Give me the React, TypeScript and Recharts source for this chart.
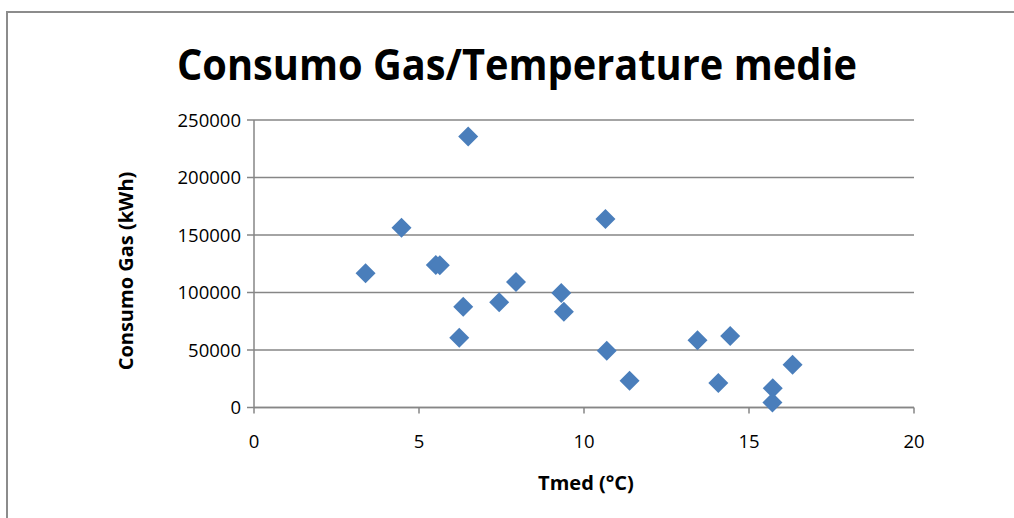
import { ScatterChart, Scatter, XAxis, YAxis, CartesianGrid } from 'recharts';

const temps = [3.38, 4.47, 5.51, 5.63, 6.49, 6.34, 6.22, 7.43, 7.94, 9.31, 9.39, 10.65, 10.69, 11.38, 13.44, 14.43, 14.07, 16.32, 15.72, 15.71];
const gas = [116700, 156200, 124000, 123700, 235700, 87600, 60600, 91500, 109100, 99600, 83300, 164000, 49300, 23200, 58400, 62100, 21400, 37100, 16800, 4400];
const xTicks = [0, 5, 10, 15, 20];
const yTicks = [0, 50000, 100000, 150000, 200000, 250000];

const chartTitle = 'Consumo Gas/Temperature medie';
const xTitle = 'Tmed (°C)';
const yTitle = 'Consumo Gas (kWh)';

const points = temps.map((t, i) => ({ t, gas: gas[i] }));

const FONT = '"Open Sans", "Noto Sans", sans-serif';
const GRID = '#868686';

function Diamond(props: any) {
  const { cx, cy } = props;
  const r = 10;
  return <polygon points={`${cx},${cy - r} ${cx + r},${cy} ${cx},${cy + r} ${cx - r},${cy}`} fill="#4A7EBB" />;
}

export default function App() {
  return (
    <div style={{ position: 'absolute', left: 0, top: 0, width: 1014, height: 518, overflow: 'hidden', background: '#fff', fontFamily: FONT }}>
      <div style={{ position: 'absolute', left: 6, top: 11, width: 1100, height: 600, borderTop: '2px solid #8c8c8c', borderLeft: '2px solid #8c8c8c' }} />
      <ScatterChart width={1014} height={518} margin={{ top: 120, right: 100, bottom: 50.5, left: 174 }} style={{ position: 'absolute', left: 0, top: 0 }}>
        <CartesianGrid vertical={false} stroke={GRID} strokeWidth={1.5} />
        <XAxis
          type="number"
          dataKey="t"
          domain={[0, 20]}
          ticks={xTicks}
          height={60}
          tickSize={6}
          tickMargin={21}
          stroke={GRID}
          strokeWidth={1.5}
          tick={{ fill: '#000', fontSize: 18.5, fontFamily: FONT }}
        />
        <YAxis
          type="number"
          dataKey="gas"
          domain={[0, 250000]}
          ticks={yTicks}
          width={80}
          tickSize={7}
          tickMargin={6}
          stroke={GRID}
          strokeWidth={1.5}
          tick={{ fill: '#000', fontSize: 18.5, fontFamily: FONT }}
        />
        <Scatter data={points} shape={<Diamond />} isAnimationActive={false} />
      </ScatterChart>
      <svg width={1014} height={518} style={{ position: 'absolute', left: 0, top: 0, pointerEvents: 'none' }}>
        <text x={517} y={80} textAnchor="middle" fontSize={43} fontWeight="bold" fontFamily={FONT} textLength={680} lengthAdjust="spacingAndGlyphs" fill="#000">
          {chartTitle}
        </text>
        <text x={586} y={482} textAnchor="middle" dominantBaseline="central" fontSize={20} fontWeight="bold" fontFamily={FONT} fill="#000">
          {xTitle}
        </text>
        <text x={125} y={271} textAnchor="middle" dominantBaseline="central" fontSize={20} fontWeight="bold" fontFamily={FONT} fill="#000" transform="rotate(-90 125 271)">
          {yTitle}
        </text>
      </svg>
    </div>
  );
}
